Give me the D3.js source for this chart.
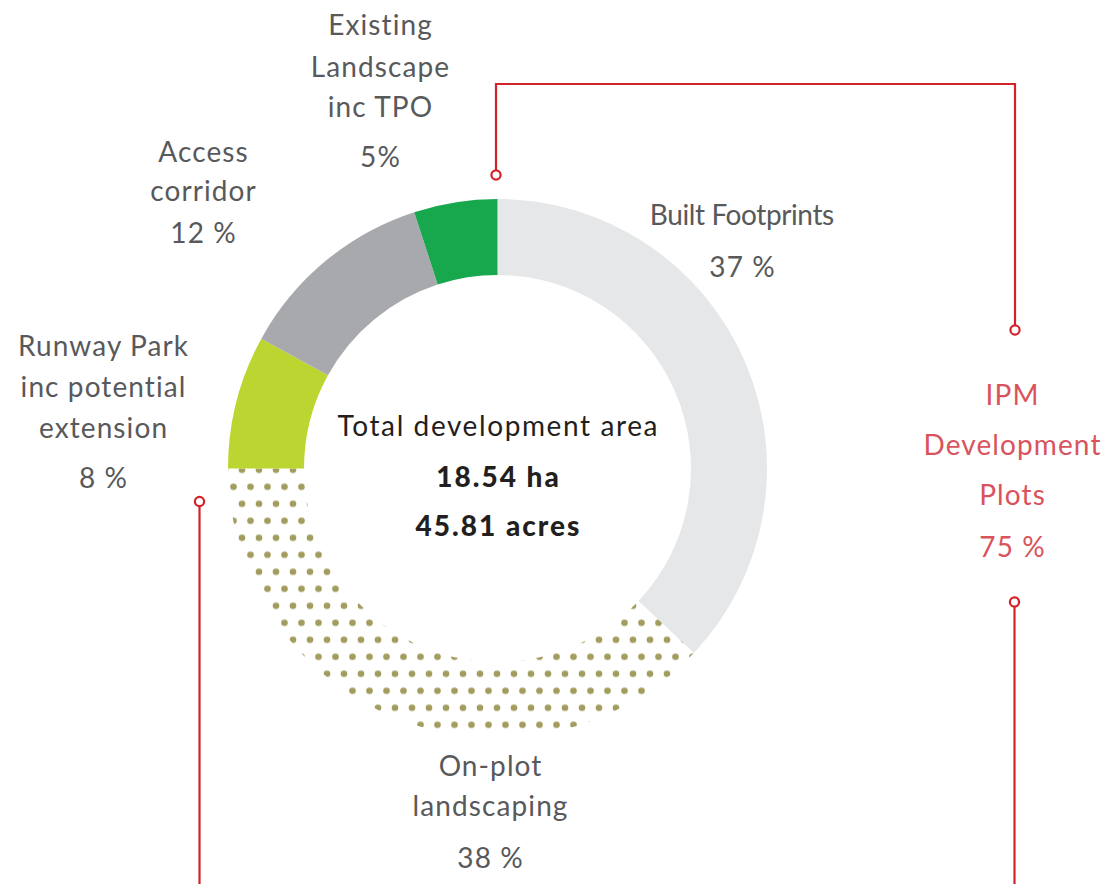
<!DOCTYPE html>
<html>
<head>
<meta charset="utf-8">
<script src="https://cdn.jsdelivr.net/npm/d3@7"></script>
<style>
  html, body { margin: 0; padding: 0; background: #ffffff; }
  svg { display: block; }
  text { font-family: "Lato", "Open Sans", sans-serif; }
</style>
</head>
<body>
<svg id="chart" width="1105" height="884"></svg>
<script>
// Land-use breakdown of the development site (percent of total area)
const categories = ["Built Footprints", "On-plot landscaping", "Runway Park", "Access corridor", "Existing Landscape"];
const shares = [37, 38, 8, 12, 5];
const fills = ["#e6e7e8", "url(#dots)", "#bdd531", "#a7a9ac", "#17a84e"];

// Label text blocks (name lines, then percentage line)
const labelLines = [
  ["Built Footprints"],
  ["On-plot", "landscaping"],
  ["Runway Park", "inc potential", "extension"],
  ["Access", "corridor"],
  ["Existing", "Landscape", "inc TPO"]
];
const pctLabels = ["37 %", "38 %", "8 %", "12 %", "5%"];

const totalLines = ["Total development area", "18.54 ha", "45.81 acres"];
const groupLines = ["IPM", "Development", "Plots"];
const groupPct = "75 %";

const svg = d3.select("#chart");
const cx = 497.5, cy = 468.5;
const rOuter = 269.5, rInner = 193.5;
const fs = 28, ls = 1.1;

// Dotted fill used for the on-plot landscaping slice
const defs = svg.append("defs");
const pat = defs.append("pattern")
  .attr("id", "dots")
  .attr("patternUnits", "userSpaceOnUse")
  .attr("x", 246 - 8.5).attr("y", 494.3 - 8.5)
  .attr("width", 17).attr("height", 34);
pat.append("circle").attr("cx", 8.5).attr("cy", 8.5).attr("r", 3.3).attr("fill", "#a29d5e");
pat.append("circle").attr("cx", 0).attr("cy", 25.5).attr("r", 3.3).attr("fill", "#a29d5e");
pat.append("circle").attr("cx", 17).attr("cy", 25.5).attr("r", 3.3).attr("fill", "#a29d5e");

const pie = d3.pie().sort(null).value(d => d)(shares);
const arc = d3.arc().innerRadius(rInner).outerRadius(rOuter);

const ring = svg.append("g").attr("transform", `translate(${cx},${cy})`);
ring.selectAll("path.slice")
  .data(pie)
  .join("path")
  .attr("class", "slice")
  .attr("d", arc)
  .attr("fill", (d, i) => fills[i]);

// Centred text helper; letter spacing adds a trailing gap, so nudge by half of it
function addText(g, x, y, t, spacing) {
  return g.append("text")
    .attr("x", x + spacing / 2).attr("y", y)
    .attr("font-size", fs)
    .attr("letter-spacing", spacing)
    .text(t);
}

// Centre summary
const centre = svg.append("g").attr("text-anchor", "middle").attr("fill", "#231f20");
const centreY = [436, 487, 536];
totalLines.forEach((t, i) => {
  addText(centre, cx, centreY[i], t, i === 0 ? 1.6 : 2.0)
    .attr("font-weight", i === 0 ? 400 : 900);
});

// Slice labels: anchor x, baseline of each name line, baseline of percentage
const labelPos = [
  { x: 742, ys: [225], py: 277 },
  { x: 490, ys: [776, 816], py: 868 },
  { x: 103, ys: [356, 397, 438], py: 488 },
  { x: 203, ys: [162, 201], py: 243 },
  { x: 380, ys: [35, 77, 117], py: 167 }
];
const labels = svg.append("g").attr("text-anchor", "middle").attr("fill", "#58595b");
labelLines.forEach((lines, i) => {
  const p = labelPos[i];
  lines.forEach((t, j) => addText(labels, p.x, p.ys[j], t, i === 0 ? -0.4 : ls));
  addText(labels, p.x, p.py, pctLabels[i], ls);
});

// IPM development plots group label
const grp = svg.append("g").attr("text-anchor", "middle").attr("fill", "#d9535c");
[405, 455, 505].forEach((y, i) => addText(grp, 1012, y, groupLines[i], ls));
addText(grp, 1012, 557, groupPct, ls);

// Bracket connectors
const red = "#d2232a";
const conn = svg.append("g").attr("fill", "none").attr("stroke", red).attr("stroke-width", 2.2);
conn.append("path").attr("d", "M496,170 V84 H1015 V325");
conn.append("path").attr("d", "M1014.5,607 V884");
conn.append("path").attr("d", "M199.5,507 V884");
[[496, 175], [1015, 330], [1014.5, 602], [199.5, 501.5]].forEach(([x, y]) => {
  conn.append("circle").attr("cx", x).attr("cy", y).attr("r", 4.6).attr("fill", "#ffffff");
});
</script>
</body>
</html>
